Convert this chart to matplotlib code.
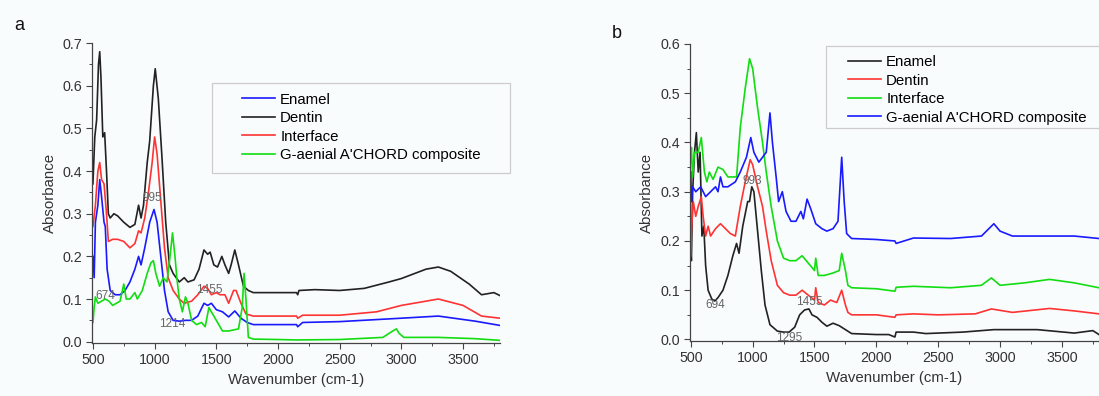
import numpy as np
import matplotlib
matplotlib.use("Agg")
import matplotlib.pyplot as plt
from matplotlib.ticker import MultipleLocator, FormatStrFormatter
from matplotlib.patches import Rectangle

plt.rcParams['font.family'] = ['Liberation Sans', 'DejaVu Sans']

#######################################################################################
# panel a: spectra (wavenumber, absorbance)

a_enamel_x = [500, 510, 520, 540, 555, 570, 590, 600, 615, 640, 680, 720, 760, 800, 840, 870, 890, 920,
              960, 995, 1020, 1050, 1080, 1110, 1150, 1200, 1250, 1300, 1350, 1400, 1430, 1460, 1500,
              1550, 1600, 1650, 1700, 1750, 1800, 2000, 2150, 2160, 2200, 2500, 3000, 3300, 3600, 3800]
a_enamel_y = [0.20, 0.15, 0.28, 0.32, 0.38, 0.34, 0.28, 0.27, 0.17, 0.12, 0.11, 0.11, 0.12, 0.14, 0.17,
              0.20, 0.18, 0.22, 0.28, 0.31, 0.28, 0.20, 0.12, 0.07, 0.05, 0.048, 0.05, 0.05, 0.06, 0.09,
              0.085, 0.09, 0.075, 0.07, 0.058, 0.072, 0.055, 0.045, 0.04, 0.04, 0.04, 0.035, 0.045, 0.047,
              0.055, 0.06, 0.048, 0.038]

a_dentin_x = [500, 515, 530, 545, 555, 565, 580, 595, 610, 625, 640, 670, 700, 750, 800, 840, 870, 890,
              910, 940, 960, 990, 1005, 1030, 1060, 1090, 1120, 1150, 1200, 1240, 1270, 1320, 1360, 1400,
              1430, 1450, 1480, 1510, 1545, 1570, 1600, 1620, 1650, 1680, 1720, 1760, 1800, 2000, 2150,
              2160, 2170, 2300, 2500, 2700, 2900, 3000, 3200, 3300, 3400, 3550, 3650, 3750, 3800]
a_dentin_y = [0.37, 0.48, 0.52, 0.65, 0.68, 0.62, 0.48, 0.49, 0.40, 0.30, 0.29, 0.30, 0.295, 0.28, 0.268,
              0.275, 0.32, 0.29, 0.32, 0.42, 0.47, 0.60, 0.64, 0.57, 0.43, 0.28, 0.18, 0.16, 0.14, 0.15,
              0.14, 0.145, 0.17, 0.215, 0.205, 0.21, 0.18, 0.175, 0.20, 0.18, 0.16, 0.18, 0.215, 0.18,
              0.13, 0.12, 0.115, 0.115, 0.115, 0.11, 0.12, 0.122, 0.12, 0.125, 0.14, 0.148, 0.17, 0.175,
              0.165, 0.135, 0.11, 0.115, 0.108]

a_interface_x = [500, 520, 540, 555, 570, 590, 610, 625, 660, 700, 750, 800, 840, 870, 890, 920, 950, 980,
                 1000, 1020, 1050, 1080, 1110, 1150, 1200, 1240, 1300, 1350, 1400, 1430, 1460, 1500, 1530,
                 1570, 1600, 1640, 1660, 1700, 1740, 1800, 2000, 2150, 2160, 2200, 2500, 2800, 3000, 3300,
                 3500, 3650, 3800]
a_interface_y = [0.27, 0.32, 0.40, 0.42, 0.38, 0.37, 0.30, 0.235, 0.24, 0.24, 0.235, 0.22, 0.23, 0.26,
                 0.255, 0.29, 0.35, 0.42, 0.48, 0.44, 0.33, 0.22, 0.15, 0.12, 0.10, 0.09, 0.095, 0.11, 0.13,
                 0.125, 0.11, 0.115, 0.11, 0.11, 0.09, 0.12, 0.12, 0.09, 0.065, 0.06, 0.06, 0.06, 0.055,
                 0.062, 0.062, 0.07, 0.085, 0.10, 0.085, 0.06, 0.055]

a_composite_x = [500, 510, 520, 540, 570, 600, 630, 660, 690, 720, 750, 770, 800, 840, 860, 900, 940, 970,
                 990, 1010, 1040, 1070, 1100, 1125, 1145, 1165, 1180, 1200, 1225, 1250, 1270, 1300, 1340,
                 1380, 1410, 1440, 1460, 1500, 1550, 1600, 1680, 1710, 1725, 1740, 1760, 1800, 2000, 2150,
                 2500, 2850, 2930, 2960, 2980, 3020, 3300, 3600, 3800]
a_composite_y = [0.045, 0.08, 0.105, 0.09, 0.095, 0.10, 0.095, 0.085, 0.09, 0.095, 0.135, 0.10, 0.10,
                 0.115, 0.10, 0.12, 0.16, 0.185, 0.19, 0.16, 0.13, 0.15, 0.14, 0.20, 0.255, 0.20, 0.15, 0.10,
                 0.07, 0.105, 0.09, 0.05, 0.04, 0.045, 0.035, 0.08, 0.07, 0.05, 0.025, 0.025, 0.03, 0.08,
                 0.16, 0.10, 0.01, 0.006, 0.005, 0.004, 0.005, 0.01, 0.025, 0.03, 0.02, 0.01, 0.01, 0.007,
                 0.003]

a_peaks = [("674", 604, 0.107), ("995", 985, 0.336), ("1455", 1442, 0.122), ("1214", 1142, 0.042)]

#######################################################################################
# panel b

b_enamel_x = [500, 505, 515, 530, 545, 560, 575, 590, 605, 620, 640, 670, 694, 720, 760, 800, 840, 870,
              890, 920, 960, 975, 993, 1010, 1040, 1070, 1100, 1140, 1200, 1250, 1295, 1340, 1380, 1420,
              1455, 1480, 1520, 1560, 1600, 1650, 1700, 1750, 1800, 2000, 2100, 2150, 2160, 2300, 2400,
              2700, 2950, 3300, 3600, 3750, 3800]
b_enamel_y = [0.18, 0.16, 0.30, 0.38, 0.42, 0.34, 0.38, 0.21, 0.23, 0.15, 0.10, 0.082, 0.078, 0.085, 0.10,
              0.13, 0.17, 0.195, 0.175, 0.23, 0.28, 0.28, 0.31, 0.30, 0.22, 0.14, 0.07, 0.03, 0.017, 0.015,
              0.015, 0.025, 0.05, 0.06, 0.062, 0.05, 0.045, 0.035, 0.027, 0.033, 0.028, 0.02, 0.012, 0.01,
              0.01, 0.005, 0.015, 0.015, 0.012, 0.015, 0.02, 0.02, 0.013, 0.018, 0.01]

b_dentin_x = [500, 505, 520, 540, 560, 585, 600, 620, 640, 660, 700, 740, 780, 820, 860, 900, 940, 980,
              1000, 1040, 1080, 1110, 1150, 1200, 1250, 1300, 1350, 1400, 1450, 1500, 1510, 1530, 1580,
              1630, 1680, 1720, 1750, 1770, 1800, 2000, 2150, 2160, 2300, 2500, 2800, 2930, 3100, 3400,
              3600, 3800]
b_dentin_y = [0.17, 0.22, 0.28, 0.25, 0.27, 0.29, 0.25, 0.21, 0.23, 0.21, 0.225, 0.235, 0.225, 0.215,
              0.21, 0.27, 0.32, 0.365, 0.355, 0.31, 0.27, 0.22, 0.16, 0.11, 0.095, 0.09, 0.09, 0.10, 0.09,
              0.08, 0.105, 0.075, 0.07, 0.08, 0.075, 0.10, 0.07, 0.055, 0.05, 0.05, 0.045, 0.05, 0.052,
              0.05, 0.052, 0.062, 0.055, 0.063, 0.058, 0.052]

b_interface_x = [500, 505, 515, 530, 560, 585, 610, 630, 650, 680, 720, 760, 800, 840, 870, 900, 940, 975,
                 1000, 1040, 1080, 1110, 1150, 1200, 1250, 1300, 1350, 1400, 1450, 1500, 1510, 1530, 1580,
                 1650, 1700, 1720, 1750, 1770, 1800, 2000, 2150, 2160, 2300, 2600, 2850, 2930, 3000, 3200,
                 3400, 3600, 3800]
b_interface_y = [0.36, 0.39, 0.33, 0.38, 0.38, 0.41, 0.34, 0.32, 0.34, 0.325, 0.35, 0.345, 0.33, 0.33,
                 0.33, 0.43, 0.51, 0.57, 0.55, 0.47, 0.40, 0.34, 0.27, 0.20, 0.165, 0.16, 0.16, 0.17, 0.155,
                 0.14, 0.165, 0.13, 0.13, 0.135, 0.14, 0.175, 0.14, 0.11, 0.105, 0.103, 0.098, 0.106, 0.108,
                 0.105, 0.11, 0.125, 0.11, 0.115, 0.122, 0.115, 0.105]

b_composite_x = [500, 505, 515, 540, 580, 620, 660, 700, 720, 740, 760, 800, 860, 900, 950, 985, 1010,
                 1050, 1080, 1110, 1140, 1160, 1190, 1210, 1240, 1270, 1310, 1350, 1390, 1410, 1440, 1470,
                 1510, 1560, 1600, 1650, 1690, 1720, 1740, 1760, 1800, 2000, 2150, 2160, 2300, 2600, 2850,
                 2950, 3000, 3100, 3400, 3600, 3800]
b_composite_y = [0.34, 0.28, 0.31, 0.30, 0.31, 0.29, 0.30, 0.31, 0.30, 0.33, 0.31, 0.31, 0.32, 0.34, 0.37,
                 0.41, 0.38, 0.36, 0.37, 0.38, 0.46, 0.40, 0.33, 0.28, 0.30, 0.26, 0.24, 0.24, 0.26, 0.245,
                 0.285, 0.265, 0.235, 0.225, 0.22, 0.225, 0.24, 0.37, 0.28, 0.215, 0.205, 0.203, 0.20, 0.195,
                 0.206, 0.205, 0.21, 0.235, 0.22, 0.21, 0.21, 0.21, 0.205]

b_peaks = [("694", 698, 0.069), ("993", 996, 0.321), ("1455", 1456, 0.077), ("1295", 1298, 0.004)]

labels = ["Enamel", "Dentin", "Interface", "G-aenial A'CHORD composite"]

BLUE = "#1a1aff"
BLACK = "#222222"
RED = "#ff3333"
GREEN = "#11dd11"
GREY = "#444444"
BG = "#f9fcfd"


def style_axes(ax, ymax):
    ax.set_xlim(495, 3800)
    ax.set_ylim(-0.003, ymax)
    ax.spines['top'].set_visible(False)
    ax.spines['right'].set_visible(False)
    for s in ('left', 'bottom'):
        ax.spines[s].set_color(GREY)
        ax.spines[s].set_linewidth(0.9)
    ax.set_xticks(np.arange(500, 3501, 500))
    ax.set_yticks(np.arange(0, ymax + 0.001, 0.1))
    ax.yaxis.set_major_formatter(FormatStrFormatter('%.1f'))
    ax.xaxis.set_minor_locator(MultipleLocator(250))
    ax.yaxis.set_minor_locator(MultipleLocator(0.05))
    ax.tick_params(which='both', direction='out', colors=GREY, labelcolor='#333333', labelsize=10.3)
    ax.tick_params(which='major', length=4, width=0.8)
    ax.tick_params(which='minor', length=2.5, width=0.7)
    ax.set_xlabel("Wavenumber (cm-1)", fontsize=10.8, color='#333333', labelpad=4)
    ax.set_ylabel("Absorbance", fontsize=10.8, color='#333333', labelpad=4)


def boxed_legend(ax, frame_xy, frame_wh, anchor):
    ax.add_patch(Rectangle(frame_xy, frame_wh[0], frame_wh[1], transform=ax.transAxes,
                           facecolor=BG, edgecolor='#cccccc', lw=0.9, clip_on=False, zorder=4))
    leg = ax.legend(loc='upper left', bbox_to_anchor=anchor, fontsize=10.8, frameon=False,
                    handlelength=2.2, borderpad=0, labelspacing=0.3, handletextpad=0.35,
                    borderaxespad=0)
    leg.set_zorder(5)
    return leg


fig = plt.figure(figsize=(10.99, 3.96), dpi=100, facecolor=BG)

#######################################################################################

ax1 = fig.add_axes([0.084, 0.134, 0.371, 0.757])
ax1.set_facecolor(BG)
ax1.plot(a_enamel_x, a_enamel_y, color=BLUE, lw=1.2, label=labels[0])
ax1.plot(a_dentin_x, a_dentin_y, color=BLACK, lw=1.2, label=labels[1])
ax1.plot(a_interface_x, a_interface_y, color=RED, lw=1.2, label=labels[2])
ax1.plot(a_composite_x, a_composite_y, color=GREEN, lw=1.2, label=labels[3])
for txt, px, py in a_peaks:
    ax1.text(px, py, txt, fontsize=8.5, color='#666666', ha='center', va='center')
style_axes(ax1, 0.7)
boxed_legend(ax1, (0.293, 0.567), (0.731, 0.30), (0.367, 0.835))
fig.text(0.013, 0.925, "a", fontsize=13, color='#111111')

#######################################################################################

ax2 = fig.add_axes([0.628, 0.139, 0.372, 0.750])
ax2.set_facecolor(BG)
ax2.plot(b_enamel_x, b_enamel_y, color=BLACK, lw=1.2, label=labels[0])
ax2.plot(b_dentin_x, b_dentin_y, color=RED, lw=1.2, label=labels[1])
ax2.plot(b_interface_x, b_interface_y, color=GREEN, lw=1.2, label=labels[2])
ax2.plot(b_composite_x, b_composite_y, color=BLUE, lw=1.2, label=labels[3])
for txt, px, py in b_peaks:
    ax2.text(px, py, txt, fontsize=8.5, color='#666666', ha='center', va='center')
style_axes(ax2, 0.6)
boxed_legend(ax2, (0.333, 0.717), (0.75, 0.276), (0.386, 0.962))
fig.text(0.557, 0.905, "b", fontsize=13, color='#111111')

fig.savefig("out.png", dpi=100, facecolor=fig.get_facecolor())
